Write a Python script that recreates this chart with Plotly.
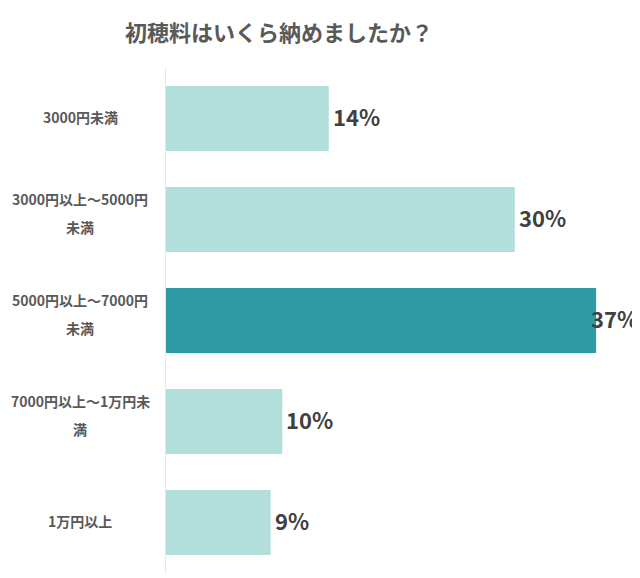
import plotly.graph_objects as go

# データ
categories = [
    "3000円未満",
    "3000円以上～5000円<br>未満",
    "5000円以上～7000円<br>未満",
    "7000円以上～1万円未<br>満",
    "1万円以上",
]
values = [14, 30, 37, 10, 9]
highlight = [False, False, True, False, False]

title_text = "初穂料はいくら納めましたか？"

LIGHT = "#B2DFDB"
DARK = "#2E9AA4"
FONT = "Noto Sans CJK JP"

colors = [DARK if h else LIGHT for h in highlight]

fig = go.Figure()
fig.add_trace(
    go.Bar(
        x=values,
        y=categories,
        orientation="h",
        marker=dict(color=colors, line=dict(width=0)),
        hoverinfo="skip",
    )
)

annotations = []
# 値ラベル
for cat, val in zip(categories, values):
    annotations.append(dict(
        x=val, y=cat, xref="x", yref="y",
        text=f"{val}%",
        showarrow=False,
        xanchor="left",
        xshift=-7 if val == max(values) else 2,
        yshift=3,
        font=dict(family=FONT, size=22, color="#404040", weight="bold"),
    ))

# カテゴリラベル(行間が広いので1行ずつ配置)
for cat in categories:
    lines = cat.split("<br>")
    n = len(lines)
    for i, line in enumerate(lines):
        annotations.append(dict(
            x=0, y=cat, xref="paper", yref="y",
            text=line,
            showarrow=False,
            xanchor="center",
            xshift=-86,
            yshift=(n - 1) * 19 - i * 28 + 2,
            font=dict(family=FONT, size=14, color="#595959", weight="bold"),
        ))

# ページ本体の余白(8px)ぶん小さくする
fig.update_layout(
    width=632,
    height=570,
    margin=dict(l=158, r=9, t=60, b=5),
    paper_bgcolor="white",
    plot_bgcolor="white",
    showlegend=False,
    bargap=0.356,
    title=dict(
        text=title_text,
        x=0.429, xanchor="center", xref="container",
        y=0.956, yanchor="middle",
        font=dict(family=FONT, size=22, color="#595959", weight="bold"),
    ),
    xaxis=dict(
        range=[0, 40],
        showgrid=False,
        zeroline=False,
        showticklabels=False,
        showline=False,
    ),
    yaxis=dict(
        autorange="reversed",
        showticklabels=False,
        showgrid=False,
        zeroline=False,
        showline=True,
        linecolor="#E6E6E6",
        linewidth=1,
    ),
    annotations=annotations,
)

fig.write_html("out.html")
